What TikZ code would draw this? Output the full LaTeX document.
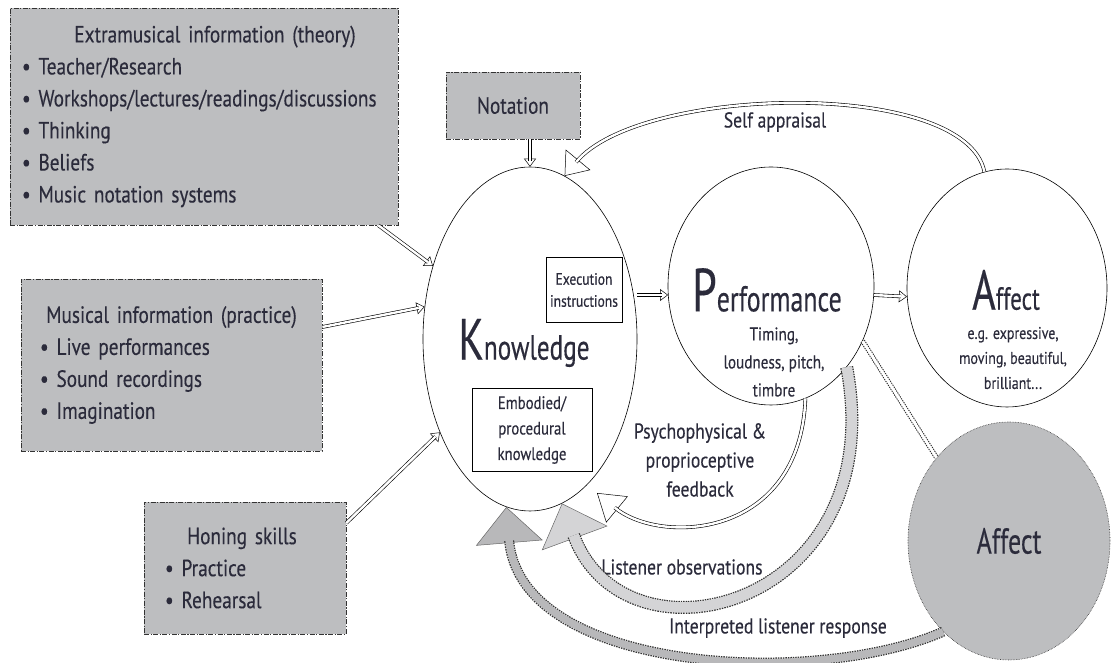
\documentclass[tikz,border=0pt]{standalone}
\usepackage{fontspec}
\setmainfont{PT Sans}[FakeStretch=0.82, FakeBold=0.3]
\newfontfamily\headfont{PT Sans}[FakeStretch=0.72, FakeBold=0.3]
\usetikzlibrary{shapes.geometric,arrows.meta}
\definecolor{boxgray}{HTML}{BDBEC0}
\definecolor{obsgray}{HTML}{D4D4D6}
\definecolor{respgray}{HTML}{B8B8BA}
\definecolor{ink}{HTML}{2B2B3B}
\newcommand{\FLOW}[4]{%
  \draw[line width=0.5pt, -{#2}] #4;
  \draw[shorten >=#3, #1] #4;}
\tikzset{
  infobox/.style={rectangle, draw=black!80, fill=boxgray, line width=0.7pt,
    dash pattern=on 5pt off 1.5pt on 1.2pt off 1.5pt, inner sep=0pt,
    align=left, text=ink, font=\fontsize{23.5}{32}\selectfont},
  inbox/.style={rectangle, draw, fill=white, line width=0.7pt, inner sep=0pt,
    align=center, text=ink},
  bubble/.style={ellipse, draw, line width=0.6pt, inner sep=0pt},
  lbl/.style={text=ink, align=center, font=\fontsize{21.5}{29}\selectfont},
  dblline/.style={double, double distance=2.4pt, line width=0.6pt},
  dotdbl/.style={draw=white, line width=2.8pt,
    preaction={draw=black!85, line width=4.8pt, dash pattern=on 1.3pt off 1pt}},
  obsband/.style={draw=obsgray, line width=10.5pt,
    preaction={draw=black!80, line width=13pt, dash pattern=on 1.5pt off 1pt}},
  respband/.style={draw=respgray, line width=7.5pt,
    preaction={draw=black!80, line width=10pt, dash pattern=on 1.5pt off 1pt}}
}
\begin{document}
\begin{tikzpicture}[x=1pt,y=1pt]
    \useasboundingbox (0,0) rectangle (1112,663);
    % sources
    \node (extra) at (204,546.5) [infobox, minimum width=388pt, minimum height=217pt, text width=364pt]
      {\makebox[\linewidth][c]{\hspace{22pt}Extramusical information (theory)}\\
       \textbullet\ Teacher/Research\\ \textbullet\ Workshops/lectures/readings/discussions\\
       \textbullet\ Thinking\\ \textbullet\ Beliefs\\ \textbullet\ Music notation systems};
    \node (notation) at (513,557.5) [infobox, minimum width=134pt, minimum height=67pt, align=center] {Notation};
    \node (musical) at (171.5,298) [infobox, minimum width=301pt, minimum height=172pt, text width=263pt]
      {\makebox[\linewidth][c]{Musical information (practice)}\\
       \textbullet\ Live performances\\ \textbullet\ Sound recordings\\ \textbullet\ Imagination};
    \node (honing) at (245,95) [infobox, minimum width=202pt, minimum height=132pt, text width=160pt]
      {\makebox[\linewidth][c]{\hspace{-6pt}Honing skills}\\
       \textbullet\ Practice\\ \textbullet\ Rehearsal};
    % bubbles
    \node (know) at (530,324) [bubble, minimum width=214pt, minimum height=344pt] {};
    \node (perf) at (771,377) [bubble, minimum width=206pt, minimum height=238pt] {};
    \node (aff)  at (1007,375) [bubble, minimum width=200pt, minimum height=238pt] {};
    \node (aff2) at (1009,122) [bubble, draw=black!80, densely dotted, fill=boxgray, text=ink,
      minimum width=202pt, minimum height=238pt, font=\headfont\fontsize{36}{36}\selectfont] {Affect};
    \node (knowtxt) at (524,320) [text=ink, font=\headfont]
      {{\fontsize{58}{58}\selectfont K}{\fontsize{35}{35}\selectfont nowledge}};
    \node (exec) at (584,373) [inbox, minimum width=76pt, minimum height=65pt,
      font=\fontsize{16.5}{22}\selectfont] {Execution\\ instructions};
    \node (embod) at (532,233) [inbox, minimum width=120pt, minimum height=83pt,
      font=\fontsize{18}{25.5}\selectfont] {Embodied/\\ procedural\\ knowledge};
    \node (perftxt) at (767,373) [text=ink, font=\headfont]
      {{\fontsize{61}{61}\selectfont P}{\fontsize{36}{36}\selectfont erformance}};
    \node (perfsub) at (774,301) [lbl, font=\fontsize{18.5}{28}\selectfont] {Timing,\\ loudness, pitch,\\ timbre};
    \node (afftxt) at (1006,373) [text=ink, font=\headfont]
      {{\fontsize{56}{56}\selectfont A}{\fontsize{32}{32}\selectfont ffect}};
    \node (affsub) at (1013,305) [lbl, font=\fontsize{17}{25}\selectfont] {e.g. expressive,\\ moving, beautiful,\\ brilliant...};
    % labels
    \node (selflbl) at (775,541) [lbl] {Self appraisal};
    \node (psylbl) at (700,203) [lbl] {Psychophysical \&\\ proprioceptive\\ feedback};
    \node (obslbl) at (682,96) [lbl] {Listener observations};
    \node (resplbl) at (778,35) [lbl] {Interpreted listener response};
    \coordinate (psytip) at (597,170);
    % arrows into knowledge
    \FLOW{dblline}{Triangle[open, fill=white, length=8pt, width=12pt]}{6pt}{([xshift=-20pt]extra.south east) -- (know.143)}
    \FLOW{dblline}{Triangle[open, fill=white, length=8pt, width=12pt]}{6pt}{([yshift=38pt]musical.east) -- (know.163)}
    \FLOW{dblline}{Triangle[open, fill=white, length=8pt, width=12pt]}{6pt}{([yshift=45pt]honing.east) -- (know.226)}
    \FLOW{dblline}{Triangle[open, fill=white, length=8pt, width=12pt]}{6pt}{(notation.south -| know.north) -- (know.north)}
    \FLOW{dblline}{Triangle[open, fill=white, length=8pt, width=12pt]}{6pt}{(know.east |- perf.185) -- (perf.185)}
    \FLOW{dblline}{Triangle[open, fill=white, length=8pt, width=12pt]}{6pt}{(perf.-5) -- (aff.185)}
    % feedback loops
    \FLOW{dblline}{Triangle[open, fill=white, length=21pt, width=32pt]}{18pt}{(aff.101) .. controls (965,585) and (640,578) .. (know.78)}
    \FLOW{dblline}{Triangle[open, fill=white, length=26pt, width=34pt]}{23pt}{(perf.-73) .. controls (800,123) and (660,118) .. (psytip)}
    \FLOW{obsband}{Triangle[fill=obsgray, color=black!60, length=37pt, width=70pt]}{34pt}{(perf.-47) .. controls (892,55) and (625,-12) .. (know.-79)}
    \FLOW{respband}{Triangle[fill=respgray, color=black!60, length=36pt, width=67pt]}{33pt}{(aff2.234) .. controls (815,-25) and (520,-10) .. (know.-98)}
    \draw[dotdbl] (perf.-31) -- (aff2.131);
\end{tikzpicture}
\end{document}
